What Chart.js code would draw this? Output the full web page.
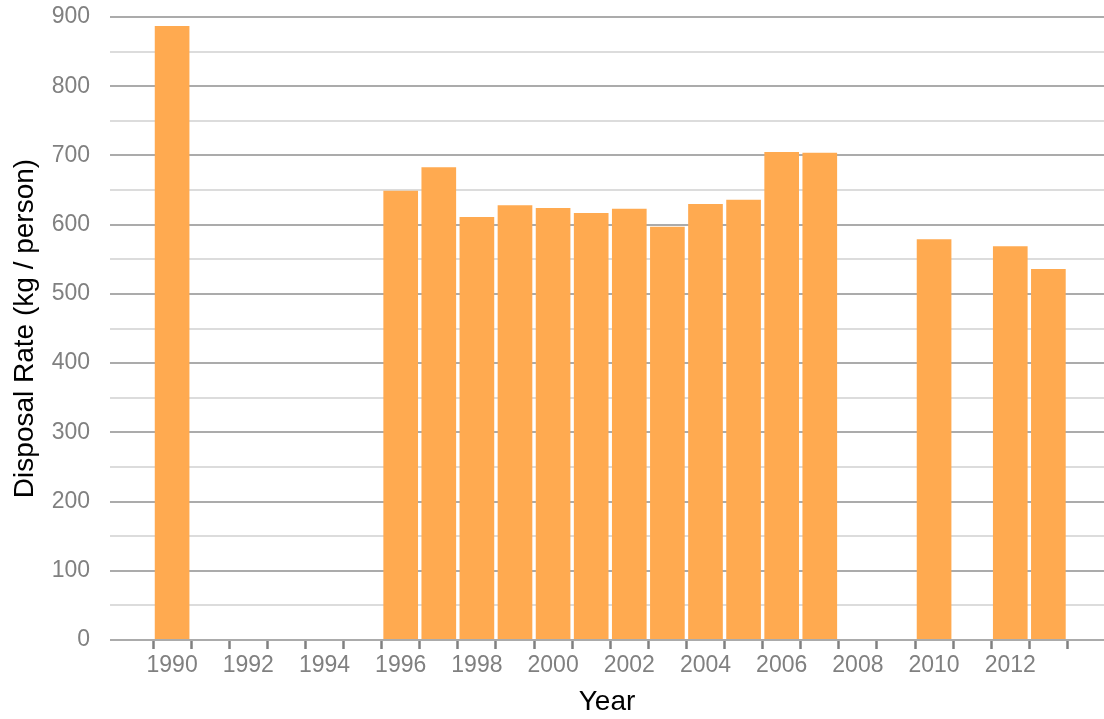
<!DOCTYPE html>
<html>
<head>
<meta charset="utf-8">
<script src="https://cdn.jsdelivr.net/npm/chart.js@4/dist/chart.umd.min.js"></script>
<style>
  body { margin: 0; background: #fff; }
  #wrap { width: 1104px; height: 719px; }
</style>
</head>
<body>
<div id="wrap"><canvas id="myChart"></canvas></div>
<script>
// disposal rate per year (years with no data are left out)
const years = [1990, 1996, 1997, 1998, 1999, 2000, 2001, 2002, 2003, 2004, 2005, 2006, 2007, 2010, 2012, 2013]
const disposalRate = [887, 649, 683, 611, 628, 624, 617, 623, 597, 630, 636, 705, 704, 579, 569, 536]

// x tick marks every year, labels every second year
const tickYears = [1990, 1991, 1992, 1993, 1994, 1995, 1996, 1997, 1998, 1999, 2000, 2001,
    2002, 2003, 2004, 2005, 2006, 2007, 2008, 2009, 2010, 2011, 2012, 2013]
const labelYears = [1990, 1992, 1994, 1996, 1998, 2000, 2002, 2004, 2006, 2008, 2010, 2012]
const yTickLabels = [0, 100, 200, 300, 400, 500, 600, 700, 800, 900]

const font = "'Liberation Sans', Arial, Helvetica, sans-serif"

const ctx = document.getElementById('myChart').getContext('2d')
new Chart(ctx, {
    type: 'bar',
    data: {
        datasets: [{
            label: 'Disposal Rate',
            data: years.map((y, i) => ({ x: y, y: disposalRate[i] })),
            backgroundColor: '#ffaa50',
            borderWidth: 0,
            categoryPercentage: 1,
            barPercentage: 0.91
        }]
    },
    options: {
        responsive: true,
        maintainAspectRatio: false,
        animation: false,
        layout: { padding: { top: 17, right: 0, left: 0, bottom: 0 } },
        plugins: {
            legend: { display: false },
            tooltip: { enabled: false }
        },
        scales: {
            x: {
                type: 'linear',
                offset: false,
                min: 1988.37,
                max: 2014.46,
                afterBuildTicks: (scale) => {
                    scale.ticks = tickYears.map(v => ({ value: v }))
                },
                afterFit: (scale) => {
                    scale.height = 79
                    scale.paddingLeft = 0
                    scale.paddingRight = 0
                },
                border: { display: false },
                grid: {
                    drawOnChartArea: false,
                    drawTicks: true,
                    tickLength: 9,
                    tickColor: '#808080',
                    tickWidth: 2.5
                },
                ticks: {
                    autoSkip: false,
                    maxRotation: 0,
                    padding: 3,
                    color: '#808080',
                    font: { family: font, size: 23 },
                    callback: (v) => labelYears.includes(v) ? String(v) : ''
                },
                title: {
                    display: true,
                    text: 'Year',
                    color: '#000',
                    padding: 0,
                    font: { family: font, size: 28 }
                }
            },
            y: {
                min: 0,
                max: 900,
                afterFit: (scale) => {
                    scale.width = 110
                    scale.paddingTop = 0
                    scale.paddingBottom = 0
                },
                border: { display: false },
                grid: {
                    drawTicks: false,
                    lineWidth: 2,
                    color: (c) => c.tick && c.tick.value % 100 === 0 ? '#ababab' : '#dcdcdc'
                },
                ticks: {
                    stepSize: 50,
                    padding: 20,
                    color: '#808080',
                    font: { family: font, size: 23 },
                    callback: (v) => yTickLabels.includes(v) ? String(v) : ''
                },
                title: {
                    display: true,
                    text: 'Disposal Rate (kg / person)',
                    color: '#000',
                    padding: { top: 8, bottom: 0 },
                    font: { family: font, size: 28 }
                }
            }
        }
    }
})
</script>
</body>
</html>
